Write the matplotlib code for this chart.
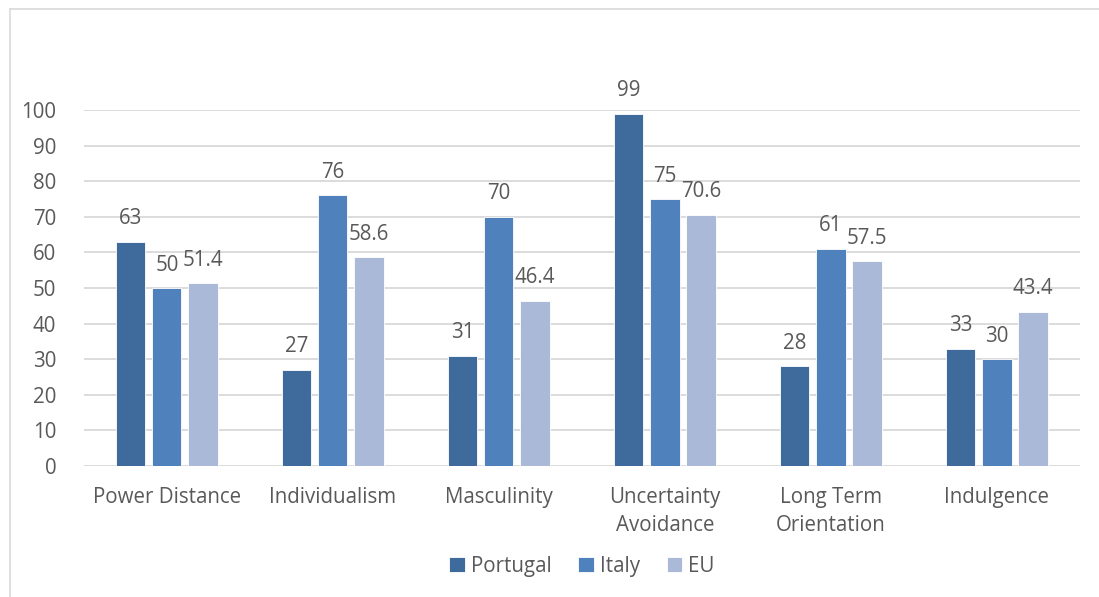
import numpy as np
import matplotlib.pyplot as plt
from matplotlib.lines import Line2D

# Datos
categorias = ["Power Distance", "Individualism", "Masculinity",
              "Uncertainty\nAvoidance", "Long Term\nOrientation", "Indulgence"]
portugal = [63, 27, 31, 99, 28, 33]
italia = [50, 76, 70, 75, 61, 30]
eu = [51.4, 58.6, 46.4, 70.6, 57.5, 43.4]
series = ["Portugal", "Italy", "EU"]
colores = ["#3f6a9c", "#4f81bd", "#aab9d8"]

plt.rcParams['font.family'] = ['Open Sans', 'DejaVu Sans']
texto = "#595959"
tam = 14.8

fig = plt.figure(figsize=(10.99, 5.97), dpi=100)
ax = fig.add_axes([0.0764, 0.2194, 0.9063, 0.5963])

x = np.arange(len(categorias))
ancho = 0.175
paso = 0.217
for k, (valores, nombre, color) in enumerate(zip([portugal, italia, eu], series, colores)):
    barras = ax.bar(x + (k - 1) * paso, valores, ancho, color=color, label=nombre,
                    edgecolor="white", linewidth=0.6, zorder=3)
    for b, v in zip(barras, valores):
        etiqueta = f"{v:g}"
        ax.annotate(etiqueta, (b.get_x() + b.get_width() / 2, v), xytext=(0, 9),
                    textcoords="offset points", ha="center", va="bottom",
                    fontsize=tam, color=texto, annotation_clip=False)

ax.set_xlim(-0.5, 5.5)
ax.set_ylim(0, 100)
ax.set_yticks(np.arange(0, 101, 10))
ax.set_xticks(x)
ax.set_xticklabels(categorias, linespacing=1.45)
ax.tick_params(length=0, labelsize=tam, labelcolor=texto)
ax.tick_params(axis="y", pad=20)
ax.tick_params(axis="x", pad=15)
ax.grid(axis="y", color="#d9d9d9", linewidth=1.3, zorder=0)
for s in ax.spines.values():
    s.set_visible(False)

ax.legend(loc="upper center", bbox_to_anchor=(0.5, -0.2), ncol=3, frameon=False,
          fontsize=tam, labelcolor=texto, handlelength=0.75, handleheight=0.75,
          handletextpad=0.3, columnspacing=1.3)

# Marco del gráfico (solo arriba e izquierda)
fig.add_artist(Line2D([10 / 1099, 1], [1 - 9 / 597, 1 - 9 / 597], color="#d9d9d9", linewidth=1.2))
fig.add_artist(Line2D([10 / 1099, 10 / 1099], [0, 1 - 9 / 597], color="#d9d9d9", linewidth=1.2))

fig.savefig("out.png", dpi=100, facecolor="white")
